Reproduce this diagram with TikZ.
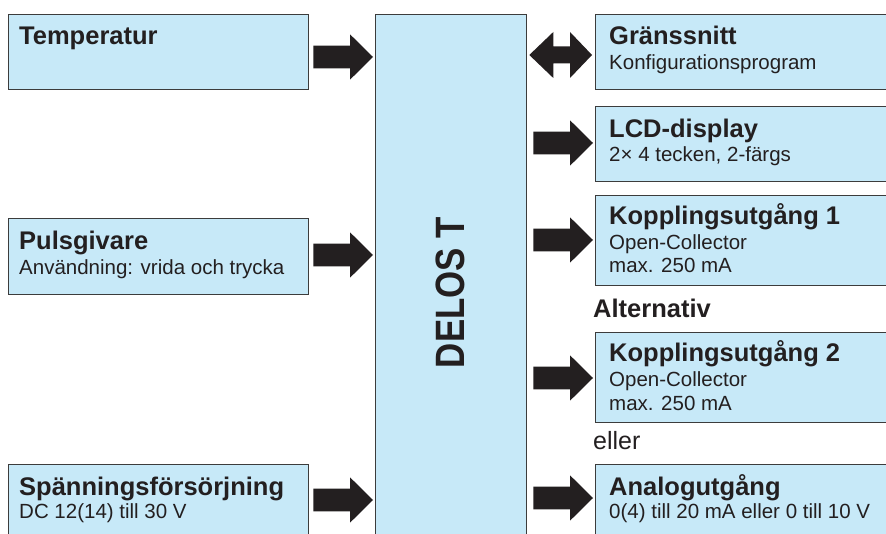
\documentclass[tikz,border=0pt]{standalone}
\usepackage{fontspec}
\usepackage{graphicx}
\setmainfont{Liberation Sans}
\usetikzlibrary{calc}
\definecolor{boxfill}{RGB}{199,233,248}
\definecolor{boxline}{RGB}{60,60,60}
\definecolor{ink}{RGB}{35,31,32}
% #1 start anchor, #2 end anchor, #3 y (px, downwards), #4 start gap
\newcommand\fatarrow[4]{%
  \fill[ink] let \p1=(#1), \p2=(#2) in
  (\x1+#4,-#3pt+11.3pt) -- (\x2-25pt,-#3pt+11.3pt) -- (\x2-25pt,-#3pt+22.7pt)
  -- (\x2-2pt,-#3pt) -- (\x2-25pt,-#3pt-22.7pt) -- (\x2-25pt,-#3pt-11.3pt)
  -- (\x1+#4,-#3pt-11.3pt) -- cycle;}
\newcommand\dblfatarrow[3]{%
  \fill[ink] let \p1=(#1), \p2=(#2) in
  (\x1+2pt,-#3pt) -- (\x1+26pt,-#3pt+23pt) -- (\x1+26pt,-#3pt+8.5pt)
  -- (\x2-25pt,-#3pt+8.5pt) -- (\x2-25pt,-#3pt+23pt) -- (\x2-3pt,-#3pt)
  -- (\x2-25pt,-#3pt-23pt) -- (\x2-25pt,-#3pt-8.5pt) -- (\x1+26pt,-#3pt-8.5pt)
  -- (\x1+26pt,-#3pt-23pt) -- cycle;}
\begin{document}
\begin{tikzpicture}[x=1pt,y=1pt,
  box/.style={draw=boxline, line width=1.3pt, fill=boxfill, inner sep=0pt,
              anchor=north west, rectangle},
  ttl/.style={anchor=base west, inner sep=0pt, text=ink,
              font=\fontsize{25.5}{30}\selectfont\bfseries},
  sub/.style={anchor=base west, inner sep=0pt, text=ink,
              font=\fontsize{20.5}{24}\selectfont},
  note/.style={anchor=base west, inner sep=0pt, text=ink,
              font=\fontsize{25}{30}\selectfont}]
\useasboundingbox (0,0) rectangle (886,-534);
% boxes
\node[box, minimum width=300pt, minimum height=75pt] (temp) at (8,-14) {};
\node[box, minimum width=300pt, minimum height=76pt] (puls) at (8,-218) {};
\node[box, minimum width=300pt, minimum height=90pt] (spann) at (8,-464) {};
\node[box, minimum width=151pt, minimum height=540pt] (delos) at (375,-14) {};
\node[box, minimum width=310pt, minimum height=75pt] (grans) at (595,-14) {};
\node[box, minimum width=310pt, minimum height=75pt] (lcd) at (595,-106) {};
\node[box, minimum width=310pt, minimum height=90pt] (kopp1) at (595,-195) {};
\node[box, minimum width=310pt, minimum height=90pt] (kopp2) at (595,-332) {};
\node[box, minimum width=310pt, minimum height=90pt] (analog) at (595,-464) {};
% texts
\node[ttl] (t1) at (19,-45) {Temperatur};
\node[ttl] (t2) at (19,-250) {Pulsgivare};
\node[sub] (s2) at (19,-275) {Användning: vrida och trycka};
\node[ttl] (t3) at (19,-495) {Spänningsförsörjning};
\node[sub] (s3) at (19,-518) {DC 12(14) till 30 V};
\node[rotate=90, inner sep=0pt, text=ink] (delost) at (450,-292.5)
  {\scalebox{0.85}[1]{\fontsize{41}{41}\selectfont\bfseries DELOS T}};
\node[ttl] (r1t) at (609,-45) {Gränssnitt};
\node[sub] (r1s) at (609,-70) {Konfigurationsprogram};
\node[ttl] (r2t) at (609,-138) {LCD-display};
\node[sub] (r2s) at (609,-162) {2× 4 tecken, 2-färgs};
\node[ttl] (r3t) at (609,-225) {Kopplingsutgång 1};
\node[sub] (r3s) at (609,-250) {Open-Collector};
\node[sub] (r3m) at (609,-273) {max. 250 mA};
\node[ttl] (alt) at (593,-318) {Alternativ};
\node[ttl] (r4t) at (609,-362) {Kopplingsutgång 2};
\node[sub] (r4s) at (609,-386) {Open-Collector};
\node[sub] (r4m) at (609,-410) {max. 250 mA};
\node[note] (eller) at (593,-449) {eller};
\node[ttl] (r5t) at (609,-495) {Analogutgång};
\node[sub] (r5s) at (609,-518) {0(4) till 20 mA eller 0 till 10 V};
% arrows
\fatarrow{temp.east}{delos.west}{57}{4pt}
\fatarrow{puls.east}{delos.west}{255}{4pt}
\fatarrow{spann.east}{delos.west}{500}{4pt}
\dblfatarrow{delos.east}{grans.west}{55}
\fatarrow{delos.east}{lcd.west}{143}{6pt}
\fatarrow{delos.east}{kopp1.west}{240}{6pt}
\fatarrow{delos.east}{kopp2.west}{378}{6pt}
\fatarrow{delos.east}{analog.west}{498}{6pt}
\end{tikzpicture}
\end{document}
